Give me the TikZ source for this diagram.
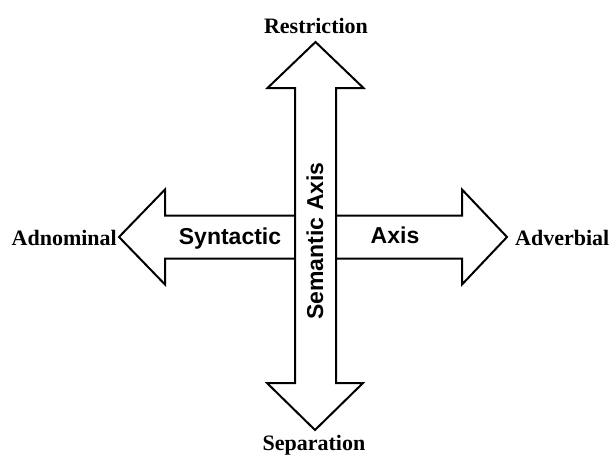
\documentclass[tikz,border=0pt]{standalone}
\usepackage{fontspec}
\setmainfont{Liberation Serif}
\setsansfont{Liberation Sans}
\usetikzlibrary{positioning}

\begin{document}
\begin{tikzpicture}[
  x=1pt, y=-1pt,
  % outline of the two big arrows
  bigarrow/.style={draw=black, fill=white, line width=2pt, line join=miter},
  % labels at the arrow tips
  endlabel/.style={font=\rmfamily\bfseries\fontsize{22}{26}\selectfont, inner sep=0pt},
  % labels inside the arrows
  axislabel/.style={font=\sffamily\bfseries\fontsize{23}{27}\selectfont, inner sep=0pt},
]
\useasboundingbox (0,0) rectangle (612,455);

% -- syntactic axis (horizontal) --
\draw[bigarrow] (119,237) -- (165,189.5) -- (165,215.5) -- (462,215.5)
  -- (462,189.5) -- (507,237) -- (462,284.5) -- (462,258.5)
  -- (165,258.5) -- (165,284.5) -- cycle;

% -- semantic axis (vertical) --
\draw[bigarrow] (315.5,42) -- (363.5,88) -- (336,88) -- (336,383)
  -- (363,383) -- (315,430) -- (267,383) -- (295,383)
  -- (295,88) -- (267.5,88) -- cycle;

% -- texts --
\node[axislabel, anchor=base] (synt) at (230,244) {Syntactic};
\node[axislabel, anchor=base] (synaxis) at (395,243) {Axis};
\node[axislabel, anchor=base, rotate=90] (sem) at (323,241) {Semantic Axis};

\node[endlabel, anchor=base] (restr) at (316,33) {Restriction};
\node[endlabel, anchor=base] (sep) at (314,450) {Separation};
\node[endlabel, anchor=base east] (adnom) at (117,245) {Adnominal};
\node[endlabel, anchor=base west] (adverb) at (515,245) {Adverbial};

\end{tikzpicture}
\end{document}
